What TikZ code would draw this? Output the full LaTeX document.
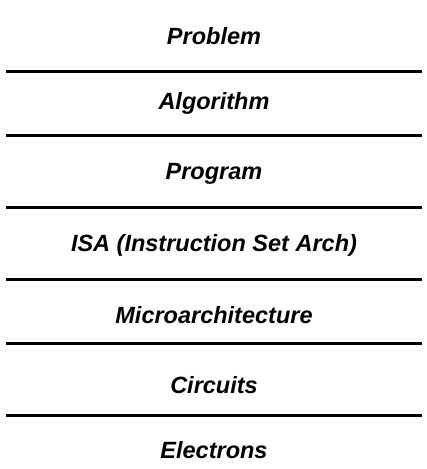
\documentclass[tikz,border=0pt]{standalone}
\usepackage{fontspec}
\setmainfont{Liberation Sans}
\begin{document}
\begin{tikzpicture}[x=1pt,y=-1pt,
  layer/.style={font=\fontsize{23.5}{26}\selectfont\bfseries\itshape, anchor=base, inner sep=0pt},
  divider/.style={line width=3pt}]
\useasboundingbox (0,0) rectangle (427,469);
\node[layer] (prob) at (214,44) {Problem};
\node[layer] (alg) at (214,109) {Algorithm};
\node[layer] (prog) at (214,179) {Program};
\node[layer] (isa) at (214,251) {ISA (Instruction Set Arch)};
\node[layer] (uarch) at (214,323) {Microarchitecture};
\node[layer] (circ) at (214,393) {Circuits};
\node[layer] (elec) at (214,458) {Electrons};
\foreach \n/\y in {1/71.5,2/135,3/207,4/279,5/343,6/415}{
  \coordinate (l\n) at (6,\y);
  \coordinate (r\n) at (422,\y);
  \draw[divider] (l\n) -- (r\n);
}
\end{tikzpicture}
\end{document}
